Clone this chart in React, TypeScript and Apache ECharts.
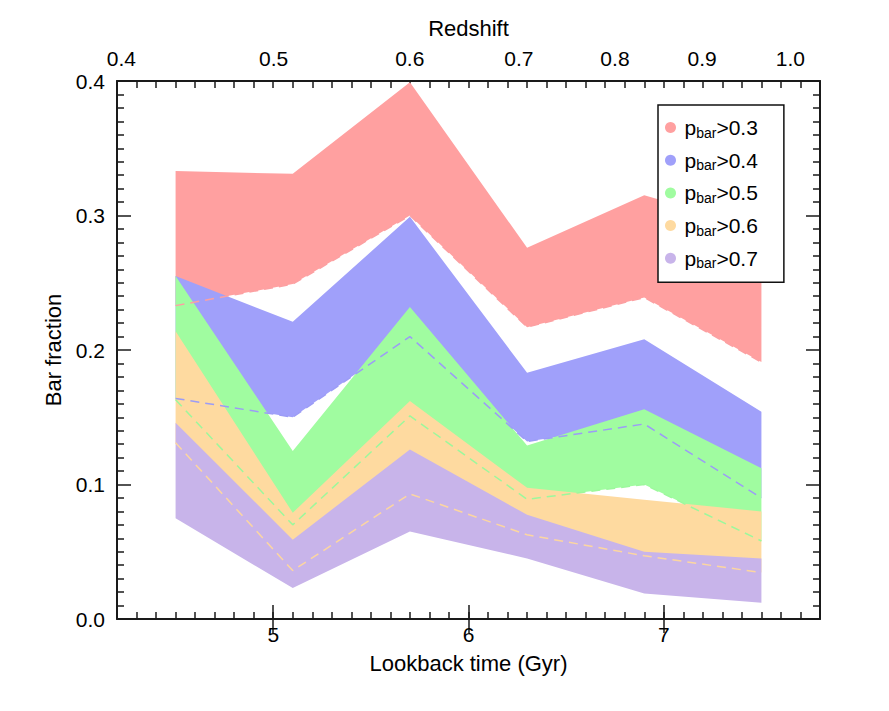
import React, { useEffect, useRef } from "react";
import * as echarts from "echarts";

// Lookback time (Gyr) of each bin
const lookback = [4.5, 5.1, 5.7, 6.3, 6.9, 7.5];

// Band limits for each p_bar threshold
const redUpper = [0.333, 0.331, 0.399, 0.276, 0.315, 0.29];
const redLower = [0.233, 0.249, 0.3, 0.217, 0.239, 0.191];
const blueUpper = [0.255, 0.221, 0.299, 0.183, 0.208, 0.154];
const blueLower = [0.164, 0.15, 0.21, 0.132, 0.145, 0.09];
const greenUpper = [0.255, 0.125, 0.232, 0.129, 0.156, 0.112];
const greenLower = [0.163, 0.07, 0.151, 0.089, 0.1, 0.058];
const orangeUpper = [0.214, 0.079, 0.162, 0.0975, 0.0886, 0.08];
const orangeLower = [0.131, 0.036, 0.093, 0.0626, 0.047, 0.0345];
const purpleUpper = [0.146, 0.059, 0.126, 0.0775, 0.05, 0.045];
const purpleLower = [0.075, 0.023, 0.065, 0.045, 0.019, 0.012];

const thresholds = ["0.3", "0.4", "0.5", "0.6", "0.7"];

// Top axis: redshift labels and their lookback times (Gyr)
const redshiftLabels = ["0.4", "0.5", "0.6", "0.7", "0.8", "0.9", "1.0"];
const redshiftLookback = [4.222, 5.002, 5.699, 6.258, 6.75, 7.196, 7.648];

// Bottom axis tick labels
const lookbackTicks = [5, 6, 7];

const FONT = "'Liberation Sans', Arial, Helvetica, sans-serif";
const AXIS_COLOR = "#1a1a1a";

const fills = ["#ffa0a0", "#a0a0fa", "#a0fca0", "#fedaa0", "#c8b4ea"];
const dashColors = ["#fca0a2", "#9c9cf6", "#9cf89c", "#fcd6a0"];

export default function App() {
  const ref = useRef<HTMLDivElement>(null);

  useEffect(() => {
    if (!ref.current) return;
    const chart = echarts.init(ref.current, null, { renderer: "svg" });

    const bands = [
      [redLower, redUpper],
      [blueLower, blueUpper],
      [greenLower, greenUpper],
      [orangeLower, orangeUpper],
      [purpleLower, purpleUpper],
    ];
    const names = thresholds.map((t) => `pbar>${t}`);

    const bandSeries = bands.map(([lower, upper], k) => ({
      type: "custom",
      name: names[k],
      xAxisIndex: 0,
      yAxisIndex: 0,
      itemStyle: { color: fills[k] },
      data: lookback.map((x, i) => [x, lower[i], upper[i]]),
      encode: { x: 0, y: [1, 2] },
      renderItem: (params: any, api: any) => {
        if (params.dataIndex !== 0) return null;
        const pts: number[][] = [];
        for (let i = 0; i < lookback.length; i++) pts.push(api.coord([lookback[i], upper[i]]));
        for (let i = lookback.length - 1; i >= 0; i--) pts.push(api.coord([lookback[i], lower[i]]));
        return {
          type: "polygon",
          shape: { points: pts },
          style: { fill: fills[k], stroke: null },
        };
      },
      silent: true,
    }));

    const dashSeries = bands.slice(0, 4).map(([lower], k) => ({
      type: "line",
      name: `lower${k}`,
      xAxisIndex: 0,
      yAxisIndex: 0,
      data: lookback.map((x, i) => [x, lower[i]]),
      showSymbol: false,
      symbol: "none",
      lineStyle: { color: dashColors[k], width: 1.5, type: [9, 6] },
      silent: true,
    }));

    const commonX = {
      type: "value",
      min: 4.2,
      max: 7.8,
      splitLine: { show: false },
      axisLine: { show: true, onZero: false, lineStyle: { color: AXIS_COLOR, width: 2 } },
    };

    const option: any = {
      animation: false,
      grid: { left: 117, top: 81, right: 69, bottom: 92, show: false },
      legend: {
        data: names.map((n) => ({ name: n, icon: "circle" })),
        orient: "vertical",
        left: 658,
        top: 105,
        itemWidth: 18,
        itemHeight: 11,
        itemGap: 10.2,
        padding: [12, 26, 12, 7],
        borderColor: "#111",
        borderWidth: 1.5,
        backgroundColor: "#fff",
        selectedMode: false,
        formatter: (name: string) => `{p|p}{s|bar}{t|${name.slice(4)}}`,
        textStyle: {
          fontFamily: FONT,
          color: "#000",
          rich: {
            p: { fontSize: 21, lineHeight: 24, fontFamily: FONT, color: "#000" },
            s: { fontSize: 14, lineHeight: 14, verticalAlign: "bottom", fontFamily: FONT, color: "#000" },
            t: { fontSize: 21, lineHeight: 24, fontFamily: FONT, color: "#000" },
          },
        },
      },
      xAxis: [
        {
          ...commonX,
          position: "bottom",
          interval: 0.1,
          name: "Lookback time (Gyr)",
          nameLocation: "middle",
          nameGap: 33,
          nameTextStyle: { fontFamily: FONT, fontSize: 22, color: "#000" },
          axisTick: { show: true, inside: true, length: 7, lineStyle: { color: AXIS_COLOR, width: 1.5 } },
          axisLabel: {
            show: true,
            customValues: lookbackTicks,
            margin: 5,
            fontFamily: FONT,
            fontSize: 21,
            color: "#000",
            formatter: (v: number) => String(Math.round(v)),
          },
        },
        {
          ...commonX,
          position: "bottom",
          axisLine: { show: false },
          axisTick: {
            show: true,
            inside: true,
            length: 14,
            customValues: lookbackTicks,
            lineStyle: { color: AXIS_COLOR, width: 1.5 },
          },
          axisLabel: { show: false },
        },
        {
          ...commonX,
          position: "top",
          interval: 0.1,
          name: "Redshift",
          nameLocation: "middle",
          nameGap: 42,
          nameTextStyle: { fontFamily: FONT, fontSize: 22, color: "#000" },
          axisTick: { show: true, inside: true, length: 7, lineStyle: { color: AXIS_COLOR, width: 1.5 } },
          axisLabel: {
            show: true,
            customValues: redshiftLookback,
            margin: 12,
            fontFamily: FONT,
            fontSize: 21,
            color: "#000",
            formatter: (v: number) => {
              let best = 0;
              for (let i = 1; i < redshiftLookback.length; i++) {
                if (Math.abs(redshiftLookback[i] - v) < Math.abs(redshiftLookback[best] - v)) best = i;
              }
              return redshiftLabels[best];
            },
          },
        },
        {
          ...commonX,
          position: "top",
          axisLine: { show: false },
          axisTick: {
            show: true,
            inside: true,
            length: 14,
            customValues: lookbackTicks,
            lineStyle: { color: AXIS_COLOR, width: 1.5 },
          },
          axisLabel: { show: false },
        },
      ],
      yAxis: [
        {
          type: "value",
          position: "left",
          min: 0,
          max: 0.4,
          interval: 0.1,
          name: "Bar fraction",
          nameLocation: "middle",
          nameRotate: 90,
          nameGap: 51,
          nameTextStyle: { fontFamily: FONT, fontSize: 22, color: "#000" },
          splitLine: { show: false },
          axisLine: { show: true, onZero: false, lineStyle: { color: AXIS_COLOR, width: 2 } },
          axisTick: { show: true, inside: true, length: 14, lineStyle: { color: AXIS_COLOR, width: 1.5 } },
          minorTick: { show: true, splitNumber: 10, length: 7, lineStyle: { color: AXIS_COLOR, width: 1.5 } },
          minorSplitLine: { show: false },
          axisLabel: {
            margin: 12,
            fontFamily: FONT,
            fontSize: 21,
            color: "#000",
            formatter: (v: number) => v.toFixed(1),
          },
        },
        {
          type: "value",
          position: "right",
          min: 0,
          max: 0.4,
          interval: 0.1,
          splitLine: { show: false },
          axisLine: { show: true, onZero: false, lineStyle: { color: AXIS_COLOR, width: 2 } },
          axisTick: { show: true, inside: true, length: 14, lineStyle: { color: AXIS_COLOR, width: 1.5 } },
          minorTick: { show: true, splitNumber: 10, length: 7, lineStyle: { color: AXIS_COLOR, width: 1.5 } },
          minorSplitLine: { show: false },
          axisLabel: { show: false },
        },
      ],
      series: [...bandSeries, ...dashSeries],
    };

    chart.setOption(option);
    return () => chart.dispose();
  }, []);

  return (
    <div
      ref={ref}
      style={{ position: "absolute", left: 0, top: 0, width: 889, height: 711, background: "#fff" }}
    />
  );
}
